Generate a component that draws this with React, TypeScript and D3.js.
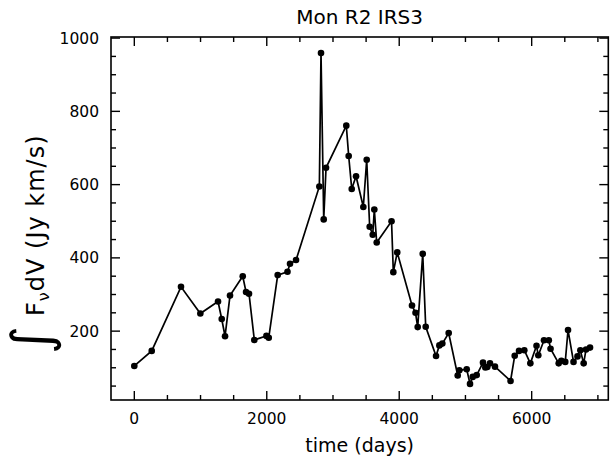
import React from "react";
import * as d3 from "d3";

const days = [0, 263, 705, 997, 1264, 1320, 1370, 1445, 1637, 1687, 1732, 1812, 1995, 2030, 2165, 2313, 2351, 2442, 2794, 2819, 2860, 2895, 3201, 3237, 3283, 3348, 3458, 3509, 3554, 3600, 3624, 3660, 3884, 3911, 3970, 4193, 4246, 4279, 4355, 4400, 4556, 4606, 4651, 4747, 4883, 4908, 5019, 5069, 5110, 5170, 5265, 5300, 5330, 5371, 5446, 5681, 5744, 5809, 5889, 5980, 6073, 6100, 6186, 6259, 6285, 6408, 6448, 6507, 6549, 6632, 6692, 6735, 6785, 6821, 6881];
const flux = [105, 146, 321, 248, 281, 233, 186, 297, 350, 307, 302, 176, 187, 182, 353, 362, 384, 394, 595, 959, 505, 646, 761, 678, 588, 623, 539, 668, 485, 463, 532, 442, 500, 361, 415, 270, 250, 211, 411, 212, 132, 161, 166, 195, 79, 93, 96, 56, 75, 80, 114, 101, 102, 112, 103, 64, 133, 146, 148, 112, 160, 134, 175, 175, 152, 112, 119, 116, 203, 116, 131, 148, 112, 150, 155];

const xMajorTicks = [0, 2000, 4000, 6000];
const yMajorTicks = [200, 400, 600, 800, 1000];
const title = "Mon R2 IRS3";
const xLabel = "time (days)";

const W = 610, H = 459;
const L = 111, R = 608.3, T = 37, B = 400;

export default function App() {
  const x = d3.scaleLinear().domain([-352, 7157]).range([L, R]);
  const y = d3.scaleLinear().domain([12, 1003]).range([B, T]);
  const xMinor = d3.range(0, 7001, 500).filter((v) => !xMajorTicks.includes(v));
  const yMinor = d3.range(50, 1001, 50).filter((v) => !yMajorTicks.includes(v));
  const pts = days.map((d, i) => [d, flux[i]] as [number, number]);
  const line = d3.line<[number, number]>().x((d) => x(d[0])).y((d) => y(d[1]));
  const font = "DejaVu Sans, sans-serif";
  const MJ = 9, MN = 5;
  return (
    <svg width={W} height={H} style={{ position: "absolute", left: 0, top: 0, background: "#fff" }} fontFamily={font}>
      <rect x={0} y={0} width={W} height={H} fill="#fff" />
      <text x={(L + R) / 2} y={24} textAnchor="middle" fontSize={20}>{title}</text>
      {/* frame */}
      <rect x={L} y={T} width={R - L} height={B - T} fill="none" stroke="#000" strokeWidth={1.6} />
      {/* x ticks */}
      {xMajorTicks.map((v) => (
        <g key={"xm" + v}>
          <line x1={x(v)} x2={x(v)} y1={B} y2={B - MJ} stroke="#000" strokeWidth={1.4} />
          <line x1={x(v)} x2={x(v)} y1={T} y2={T + MJ} stroke="#000" strokeWidth={1.4} />
          <text x={x(v)} y={424} textAnchor="middle" fontSize={15.5}>{v}</text>
        </g>
      ))}
      {xMinor.map((v) => (
        <g key={"xn" + v}>
          <line x1={x(v)} x2={x(v)} y1={B} y2={B - MN} stroke="#000" strokeWidth={1.4} />
          <line x1={x(v)} x2={x(v)} y1={T} y2={T + MN} stroke="#000" strokeWidth={1.4} />
        </g>
      ))}
      {yMajorTicks.map((v) => (
        <g key={"ym" + v}>
          <line x1={L} x2={L + MJ} y1={y(v)} y2={y(v)} stroke="#000" strokeWidth={1.4} />
          <line x1={R} x2={R - MJ} y1={y(v)} y2={y(v)} stroke="#000" strokeWidth={1.4} />
          <text x={99} y={y(v) + 5.5} textAnchor="end" fontSize={15.5}>{v}</text>
        </g>
      ))}
      {yMinor.map((v) => (
        <g key={"yn" + v}>
          <line x1={L} x2={L + MN} y1={y(v)} y2={y(v)} stroke="#000" strokeWidth={1.4} />
          <line x1={R} x2={R - MN} y1={y(v)} y2={y(v)} stroke="#000" strokeWidth={1.4} />
        </g>
      ))}
      <text x={(L + R) / 2} y={452} textAnchor="middle" fontSize={19}>{xLabel}</text>
      {/* y label */}
      <g transform="translate(44,354) rotate(-90)">
        <text x={0} y={6} fontSize={54}>∫</text>
        <text x={38} y={0} fontSize={24} letterSpacing={1}>
          F<tspan fontSize={16} dy={5}>ν</tspan><tspan dy={-5}>dV (Jy km/s)</tspan>
        </text>
      </g>
      <path d={line(pts) || ""} fill="none" stroke="#000" strokeWidth={1.7} />
      {pts.map((p, i) => (
        <circle key={i} cx={x(p[0])} cy={y(p[1])} r={3.3} fill="#000" />
      ))}
    </svg>
  );
}
